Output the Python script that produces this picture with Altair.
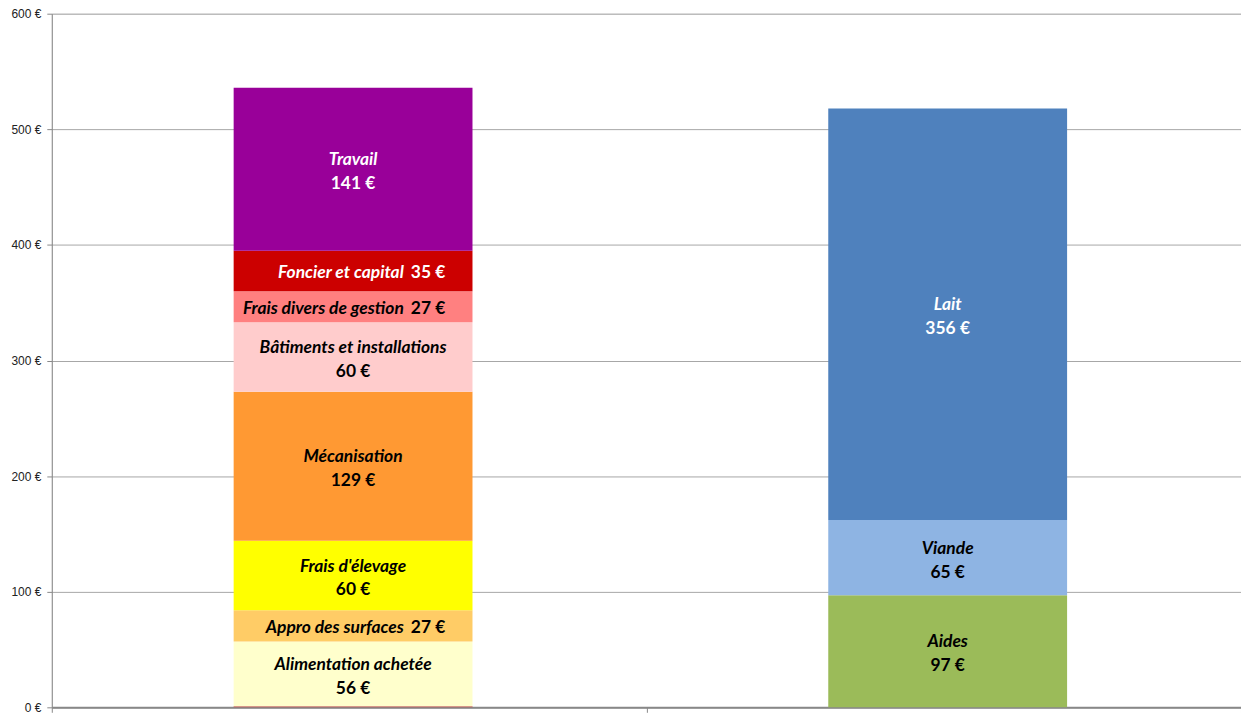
import altair as alt
import pandas as pd

groups = ["Coûts", "Produits"]

cost_names = ["", "Alimentation achetée", "Appro des surfaces", "Frais d'élevage",
              "Mécanisation", "Bâtiments et installations", "Frais divers de gestion",
              "Foncier et capital", "Travail"]
cost_values = [1, 56, 27, 60, 129, 60, 27, 35, 141]
cost_colors = ["#C0504D", "#FFFFCC", "#FFCC66", "#FFFF00", "#FF9933",
               "#FFCCCC", "#FF8080", "#CC0000", "#990099"]
cost_text = ["#000000", "#000000", "#000000", "#000000", "#000000",
             "#000000", "#000000", "#FFFFFF", "#FFFFFF"]
cost_layout = ["none", "two", "one", "two", "two", "two", "one", "one", "two"]

prod_names = ["Aides", "Viande", "Lait"]
prod_values = [97, 65, 356]
prod_colors = ["#9BBB59", "#8EB4E3", "#4F81BD"]
prod_text = ["#000000", "#000000", "#FFFFFF"]
prod_layout = ["two", "two", "two"]

y_ticks = [0, 100, 200, 300, 400, 500, 600]

rows = []
for grp, names, vals, cols, tcols, lays in [
    (groups[0], cost_names, cost_values, cost_colors, cost_text, cost_layout),
    (groups[1], prod_names, prod_values, prod_colors, prod_text, prod_layout),
]:
    cum = 0
    for i, (n, v, c, t, l) in enumerate(zip(names, vals, cols, tcols, lays)):
        rows.append({"group": grp, "name": n, "value": v, "order": i, "color": c,
                     "tcolor": t, "layout": l, "mid": cum + v / 2, "vlabel": f"{v} €"})
        cum += v
df = pd.DataFrame(rows)

xscale = alt.Scale(domain=groups, paddingInner=0, paddingOuter=0)
xenc = alt.X("group:N", scale=xscale,
             axis=alt.Axis(title=None, labels=False, ticks=True, tickBand="extent",
                           tickSize=5, tickColor="#888888", domainColor="#888888",
                           domainWidth=2, grid=False))
yscale = alt.Scale(domain=[0, 600], nice=False)

base = alt.Chart(df)
shift = 4

bars = base.mark_bar(size=240, xOffset=shift).encode(
    x=xenc,
    y=alt.Y("value:Q", stack="zero", scale=yscale,
            axis=alt.Axis(title=None, values=y_ticks, labelExpr="datum.value + ' €'",
                          labelFont="Liberation Sans", labelFontSize=12, labelColor="#222222",
                          labelPadding=6, tickSize=5, tickColor="#888888",
                          domainColor="#888888", gridColor="#A6A6A6", gridWidth=1)),
    order=alt.Order("order:Q"),
    color=alt.Color("color:N", scale=None),
)

font = "Lato"
fs = 17.5

two = base.transform_filter("datum.layout == 'two'")
one = base.transform_filter("datum.layout == 'one'")

xt = alt.X("group:N", scale=xscale)
yt = alt.Y("mid:Q", scale=yscale)

name2 = two.mark_text(font=font, fontSize=fs, fontStyle="italic", fontWeight="bold",
                      dx=shift, dy=-9, baseline="middle").encode(
    x=xt, y=yt, text="name:N", color=alt.Color("tcolor:N", scale=None))
val2 = two.mark_text(font=font, fontSize=fs, fontWeight="bold",
                     dx=shift, dy=15, baseline="middle").encode(
    x=xt, y=yt, text="vlabel:N", color=alt.Color("tcolor:N", scale=None))
name1 = one.mark_text(font=font, fontSize=fs, fontStyle="italic", fontWeight="bold",
                      align="right", dx=shift + 51, dy=2, baseline="middle").encode(
    x=xt, y=yt, text="name:N", color=alt.Color("tcolor:N", scale=None))
val1 = one.mark_text(font=font, fontSize=fs, fontWeight="bold",
                     align="left", dx=shift + 58, dy=2, baseline="middle").encode(
    x=xt, y=yt, text="vlabel:N", color=alt.Color("tcolor:N", scale=None))

chart = alt.layer(bars, name2, val2, name1, val1).properties(
    width=1195, height=697,
    padding={"left": 44, "top": 4, "right": 0, "bottom": 6},
    autosize=alt.AutoSizeParams(type="none"),
).configure_view(stroke=None).configure(background="white")

chart.save("out.html", embed_options={"renderer": "svg", "actions": False})
